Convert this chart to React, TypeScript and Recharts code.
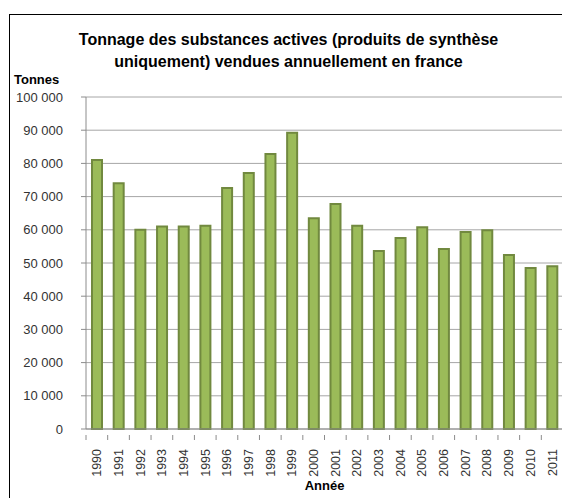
import { Bar, BarChart, CartesianGrid, XAxis, YAxis } from 'recharts'

const annees = ['1990', '1991', '1992', '1993', '1994', '1995', '1996', '1997', '1998', '1999', '2000',
  '2001', '2002', '2003', '2004', '2005', '2006', '2007', '2008', '2009', '2010', '2011']
const tonnes = [81000, 74000, 60000, 61000, 61000, 61200, 72600, 77100, 82800, 89200, 63500,
  67800, 61200, 53600, 57500, 60800, 54200, 59300, 59900, 52400, 48500, 49000]
const yTicks = [0, 10000, 20000, 30000, 40000, 50000, 60000, 70000, 80000, 90000, 100000]

const data = annees.map((annee, i) => ({ annee, tonnes: tonnes[i] }))

const FONT = '"Liberation Sans", Arial, sans-serif'

const fmt = (v: number) => v.toLocaleString('en-US').replace(/,/g, ' ')

// tick en X : libellé vertical + petit trait entre les catégories (style Excel)
const AnneeTick = (props: any) => {
  const { x, y, payload, index, visibleTicksCount, width } = props
  const band = width / visibleTicksCount
  return (
    <g>
      <line x1={x - band / 2} x2={x - band / 2} y1={y - 8} y2={y - 3} stroke="#8c8c8c" />
      {index === visibleTicksCount - 1 && (
        <line x1={x + band / 2} x2={x + band / 2} y1={y - 8} y2={y - 3} stroke="#8c8c8c" />
      )}
      <text
        transform={`translate(${x},${y}) rotate(-90)`}
        x={-6}
        dy="0.35em"
        textAnchor="end"
        fontSize={12.5}
        fontFamily={FONT}
        fill="#333"
      >
        {payload.value}
      </text>
    </g>
  )
}

export default function App() {
  return (
    <div style={{ position: 'relative', margin: '-8px 0 0 -8px', width: 570, height: 498, overflow: 'hidden', background: '#fff' }}>
      <div style={{ position: 'absolute', left: 9, top: 14, width: 559, height: 520, boxSizing: 'border-box', border: '1px solid #000' }} />
      <div style={{ position: 'absolute', left: 9, top: 29, width: 559, textAlign: 'center', fontFamily: FONT, fontWeight: 'bold', fontSize: 16, lineHeight: '22px', color: '#000' }}>
        Tonnage des substances actives (produits de synthèse<br />uniquement) vendues annuellement en france
      </div>
      <div style={{ position: 'absolute', left: 14, top: 72, fontFamily: FONT, fontWeight: 'bold', fontSize: 13, lineHeight: '16px', color: '#000' }}>
        Tonnes
      </div>
      <div style={{ position: 'absolute', left: 0, top: 0 }}>
        <BarChart width={570} height={498} data={data} margin={{ top: 97, right: 7, left: 0, bottom: 9 }} barSize={10}>
          <CartesianGrid vertical={false} stroke="#a6a6a6" />
          <XAxis
            dataKey="annee"
            height={60}
            interval={0}
            tickLine={false}
            axisLine={{ stroke: '#8c8c8c' }}
            tick={<AnneeTick />}
            tickMargin={8}
            label={{ value: 'Année', position: 'insideBottom', offset: -1, fontSize: 13, fontWeight: 'bold', fontFamily: FONT, fill: '#000' }}
          />
          <YAxis
            width={86}
            domain={[0, 100000]}
            ticks={yTicks}
            tickFormatter={fmt}
            tickSize={5}
            tickMargin={18}
            axisLine={{ stroke: '#8c8c8c' }}
            tickLine={{ stroke: '#8c8c8c' }}
            tick={{ fontSize: 13, fontFamily: FONT, fill: '#333' }}
          />
          <Bar dataKey="tonnes" fill="#9bbb59" stroke="#71893f" strokeWidth={2} isAnimationActive={false} />
        </BarChart>
      </div>
    </div>
  )
}
